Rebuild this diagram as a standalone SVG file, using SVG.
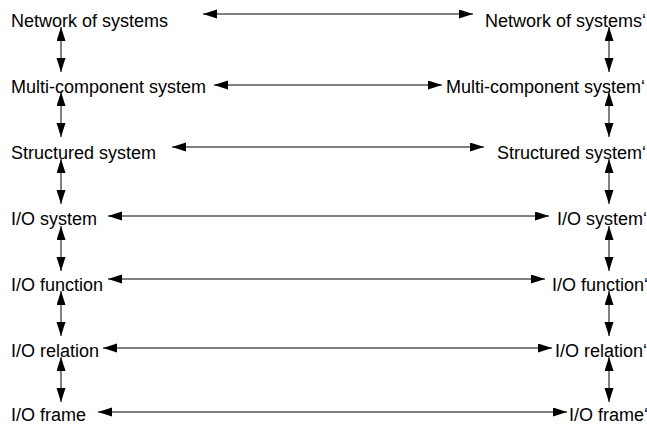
<svg xmlns="http://www.w3.org/2000/svg" width="647" height="425" viewBox="0 0 647 425">
  <style>
    text { font-family: "Liberation Sans", Arial, sans-serif; font-size: 18px; fill: #000; }
    .link { stroke: #000; stroke-width: 1; fill: none; marker-start: url(#head); marker-end: url(#head); }
  </style>
  <defs>
    <marker id="head" markerUnits="userSpaceOnUse" markerWidth="15" markerHeight="10" refX="14" refY="4.5" orient="auto-start-reverse">
      <path d="M0,0 L14,4.5 L0,9 Z" fill="#000"/>
    </marker>
  </defs>
  <rect width="647" height="425" fill="#fff"/>

  <!-- left column -->
  <g id="network-left"><text x="11" y="27">Network of systems</text></g>
  <g id="multi-left"><text x="11" y="93">Multi-component system</text></g>
  <g id="structured-left"><text x="11" y="159">Structured system</text></g>
  <g id="iosystem-left"><text x="11" y="225">I/O system</text></g>
  <g id="iofunction-left"><text x="11" y="291">I/O function</text></g>
  <g id="iorelation-left"><text x="11" y="357">I/O relation</text></g>
  <g id="ioframe-left"><text x="11" y="421">I/O frame</text></g>

  <!-- right column -->
  <g id="network-right"><text x="485" y="27">Network of systems‘</text></g>
  <g id="multi-right"><text x="446" y="93">Multi-component system‘</text></g>
  <g id="structured-right"><text x="497" y="159">Structured system‘</text></g>
  <g id="iosystem-right"><text x="557" y="225">I/O system‘</text></g>
  <g id="iofunction-right"><text x="552" y="291">I/O function‘</text></g>
  <g id="iorelation-right"><text x="555" y="357">I/O relation‘</text></g>
  <g id="ioframe-right"><text x="569" y="421">I/O frame‘</text></g>

  <g id="connectors">
    <!-- horizontal correspondences -->
    <line class="link" x1="203" y1="14" x2="473" y2="14"/>
    <line class="link" x1="214" y1="85" x2="442" y2="85"/>
    <line class="link" x1="172" y1="147" x2="484" y2="147"/>
    <line class="link" x1="108" y1="216" x2="549" y2="216"/>
    <line class="link" x1="108" y1="279" x2="545" y2="279"/>
    <line class="link" x1="103" y1="348" x2="552" y2="348"/>
    <line class="link" x1="98" y1="412" x2="567" y2="412"/>
    <!-- left vertical links -->
    <line class="link" x1="61" y1="27" x2="61" y2="72"/>
    <line class="link" x1="61" y1="92" x2="61" y2="137"/>
    <line class="link" x1="61" y1="159" x2="61" y2="204"/>
    <line class="link" x1="61" y1="226" x2="61" y2="271"/>
    <line class="link" x1="61" y1="291" x2="61" y2="336"/>
    <line class="link" x1="61" y1="357" x2="61" y2="402"/>
    <!-- right vertical links -->
    <line class="link" x1="609" y1="27" x2="609" y2="72"/>
    <line class="link" x1="609" y1="92" x2="609" y2="137"/>
    <line class="link" x1="609" y1="159" x2="609" y2="204"/>
    <line class="link" x1="609" y1="226" x2="609" y2="271"/>
    <line class="link" x1="609" y1="291" x2="609" y2="336"/>
    <line class="link" x1="609" y1="357" x2="609" y2="402"/>
  </g>
</svg>
